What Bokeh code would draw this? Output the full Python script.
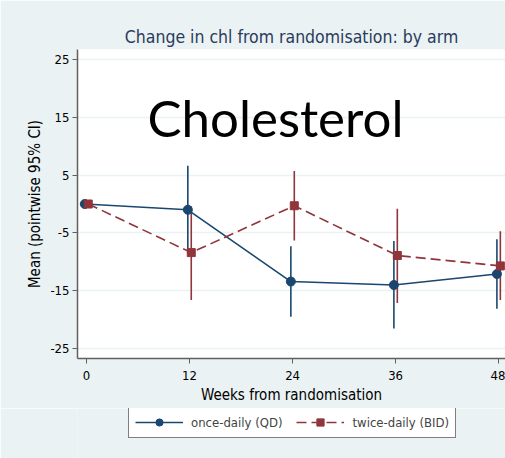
from bokeh.plotting import figure
from bokeh.models import ColumnDataSource, Range1d, Legend, LegendItem, Label, FixedTicker
from bokeh.layouts import column
from bokeh.transform import dodge
from bokeh.embed import file_html
from bokeh.resources import INLINE

weeks = [0, 12, 24, 36, 48]
qd_mean = [0.0, -1.0, -13.4, -14.0, -12.1]
qd_lo = [0.0, -8.6, -19.5, -21.5, -18.1]
qd_hi = [0.0, 6.6, -7.3, -6.4, -6.1]
bid_mean = [0.0, -8.4, -0.3, -8.9, -10.7]
bid_lo = [0.0, -16.6, -6.3, -17.1, -16.6]
bid_hi = [0.0, -0.4, 5.7, -0.8, -4.7]
y_ticks = [25, 15, 5, -5, -15, -25]

FONT = "DejaVu Sans Condensed, Liberation Sans Narrow, Liberation Sans"
BG = "#EAF2F3"
NAVY = "#1a476f"
MAROON = "#90353b"

qd = ColumnDataSource(dict(x=weeks, m=qd_mean, lo=qd_lo, hi=qd_hi))
bid = ColumnDataSource(dict(x=weeks, m=bid_mean, lo=bid_lo, hi=bid_hi))

p = figure(width=505, height=408, output_backend="svg", toolbar_location=None,
           x_range=Range1d(-1.05, 48.8), y_range=Range1d(-26.7, 26.7),
           min_border_left=77, min_border_right=0, min_border_top=49, min_border_bottom=50,
           border_fill_color=BG, background_fill_color="white",
           title="Change in chl from randomisation: by arm")
p.outline_line_color = None

p.title.text_font = FONT
p.title.text_font_size = "17.5px"
p.title.text_font_style = "normal"
p.title.text_color = "#2a3b5c"
p.title.align = "center"
p.title.offset = 4
p.title.standoff = 6

for ax in (p.xaxis, p.yaxis):
    ax.axis_line_color = "#606060"
    ax.axis_line_width = 1.5
    ax.major_tick_line_color = "#606060"
    ax.major_tick_out = 5
    ax.major_tick_in = 0
    ax.minor_tick_line_color = None
    ax.major_label_text_font = FONT
    ax.major_label_text_font_size = "13px"
    ax.major_label_text_color = "black"
    ax.axis_label_text_font = FONT
    ax.axis_label_text_font_size = "15px"
    ax.axis_label_text_font_style = "normal"
    ax.axis_label_text_color = "black"

p.xaxis.ticker = FixedTicker(ticks=weeks)
p.yaxis.ticker = FixedTicker(ticks=y_ticks)
p.yaxis.major_label_overrides = {t: str(t) for t in y_ticks}
p.xaxis.axis_label = "Weeks from randomisation"
p.yaxis.axis_label = "Mean (pointwise 95% CI)"
p.xaxis.axis_label_standoff = 3
p.yaxis.axis_label_standoff = 3
p.yaxis.major_label_standoff = 3
p.xaxis.major_label_standoff = 7

p.xgrid.grid_line_color = None
p.ygrid.grid_line_color = BG
p.ygrid.grid_line_width = 1.5

xq = dodge("x", -0.2)
xb = dodge("x", 0.2)

p.segment(x0=xq, y0="lo", x1=xq, y1="hi", source=qd, line_color=NAVY, line_width=1.6)
p.segment(x0=xb, y0="lo", x1=xb, y1="hi", source=bid, line_color=MAROON, line_width=1.6)

p.line(x=xq, y="m", source=qd, line_color=NAVY, line_width=1.6)
p.scatter(x=xq, y="m", source=qd, marker="circle", size=9, fill_color=NAVY, line_color=NAVY)
p.line(x=xb, y="m", source=bid, line_color=MAROON, line_width=1.6, line_dash="10 5")
p.scatter(x=xb, y="m", source=bid, marker="square", size=8, fill_color=MAROON, line_color=MAROON)

p.add_layout(Label(x=7.1, y=15, text="Cholesterol", text_font="Lato",
                   text_font_size="51px", text_color="black", text_baseline="alphabetic"))

# legend strip below the chart (series drawn out of view, only legend keys show)
p2 = figure(width=505, height=50, output_backend="svg", toolbar_location=None,
            x_range=Range1d(1000, 1001), y_range=Range1d(1000, 1001),
            x_axis_location=None, y_axis_location=None,
            min_border_left=0, min_border_right=0, min_border_top=0, min_border_bottom=0,
            border_fill_color=BG, background_fill_color=BG)
p2.grid.grid_line_color = None
p2.outline_line_color = None

kq = p2.line(x=xq, y="m", source=qd, line_color=NAVY, line_width=1.6)
kqs = p2.scatter(x=xq, y="m", source=qd, marker="circle", size=9, fill_color=NAVY, line_color=NAVY)
kb = p2.line(x=xb, y="m", source=bid, line_color=MAROON, line_width=1.6, line_dash="10 5")
kbs = p2.scatter(x=xb, y="m", source=bid, marker="square", size=8, fill_color=MAROON, line_color=MAROON)

legend = Legend(items=[LegendItem(label="once-daily (QD)", renderers=[kq, kqs]),
                       LegendItem(label="twice-daily (BID)", renderers=[kb, kbs])],
                orientation="horizontal", location=(51, 20),
                border_line_color="black", border_line_width=1,
                background_fill_color="white", background_fill_alpha=1,
                label_text_font=FONT, label_text_font_size="13px",
                glyph_width=48, glyph_height=18, spacing=14, padding=6,
                label_standoff=8, margin=0)
p2.add_layout(legend)

layout = column(p, p2, spacing=0)
open("out.html", "w").write(file_html(layout, INLINE))
